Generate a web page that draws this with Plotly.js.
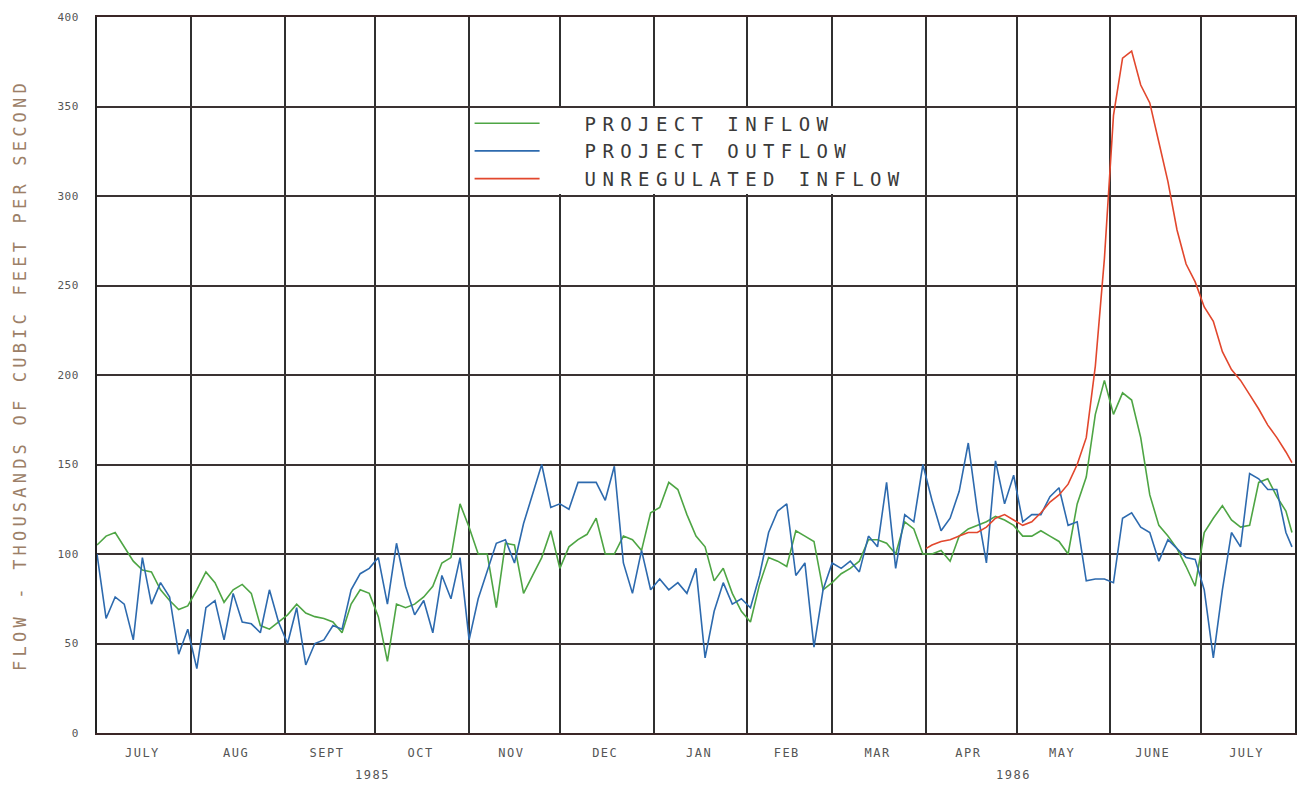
<!DOCTYPE html>
<html><head><meta charset="utf-8">
<script src="https://cdn.plot.ly/plotly-3.0.1.min.js"></script>
<style>
html,body{margin:0;padding:0;background:#fff;}
#chart{width:1305px;height:787px;}
.legendtext{letter-spacing:6.4px;}
.legendlines path{d:path('M5,0h65');}
.legend rect.bg{x:0px;y:3.5px;width:455px;height:86px;}
.xtick text{letter-spacing:1.5px;}
.ytick text{letter-spacing:0.5px;}
.ytitle{letter-spacing:4.2px;}
.annotation-text{letter-spacing:1.5px;}
</style>
</head><body><div id="chart"></div>
<script>
// Sample dates (every 3 days), July 1985 - July 1986
const dates = [
 '1985-07-01','1985-07-04','1985-07-07','1985-07-10','1985-07-13','1985-07-16','1985-07-19','1985-07-22','1985-07-25','1985-07-28','1985-07-31',
 '1985-08-03','1985-08-06','1985-08-09','1985-08-12','1985-08-15','1985-08-18','1985-08-21','1985-08-24','1985-08-27','1985-08-30',
 '1985-09-02','1985-09-05','1985-09-08','1985-09-11','1985-09-14','1985-09-17','1985-09-20','1985-09-23','1985-09-26','1985-09-29',
 '1985-10-02','1985-10-05','1985-10-08','1985-10-11','1985-10-14','1985-10-17','1985-10-20','1985-10-23','1985-10-26','1985-10-29',
 '1985-11-01','1985-11-04','1985-11-07','1985-11-10','1985-11-13','1985-11-16','1985-11-19','1985-11-22','1985-11-25','1985-11-28',
 '1985-12-01','1985-12-04','1985-12-07','1985-12-10','1985-12-13','1985-12-16','1985-12-19','1985-12-22','1985-12-25','1985-12-28','1985-12-31',
 '1986-01-03','1986-01-06','1986-01-09','1986-01-12','1986-01-15','1986-01-18','1986-01-21','1986-01-24','1986-01-27','1986-01-30',
 '1986-02-02','1986-02-05','1986-02-08','1986-02-11','1986-02-14','1986-02-17','1986-02-20','1986-02-23','1986-02-26',
 '1986-03-01','1986-03-04','1986-03-07','1986-03-10','1986-03-13','1986-03-16','1986-03-19','1986-03-22','1986-03-25','1986-03-28','1986-03-31',
 '1986-04-03','1986-04-06','1986-04-09','1986-04-12','1986-04-15','1986-04-18','1986-04-21','1986-04-24','1986-04-27','1986-04-30',
 '1986-05-03','1986-05-06','1986-05-09','1986-05-12','1986-05-15','1986-05-18','1986-05-21','1986-05-24','1986-05-27','1986-05-30',
 '1986-06-02','1986-06-05','1986-06-08','1986-06-11','1986-06-14','1986-06-17','1986-06-20','1986-06-23','1986-06-26','1986-06-29',
 '1986-07-02','1986-07-05','1986-07-08','1986-07-11','1986-07-14','1986-07-17','1986-07-20','1986-07-23','1986-07-26','1986-07-29','1986-07-31'
];

// Flow, thousands of cfs
const projectInflow = [
 105,110,112,104,96,91,90,80,74,69,71,
 80,90,84,73,80,83,78,60,58,62,
 66,72,67,65,64,62,56,72,80,78,
 65,40,72,70,72,76,82,95,98,128,
 115,100,100,70,106,105,78,88,98,113,
 92,104,108,111,120,100,100,110,108,102,123,
 126,140,136,122,110,104,85,92,78,68,
 62,83,98,96,93,113,110,107,80,
 84,89,92,96,108,108,106,100,118,114,100,
 100,102,96,110,114,116,118,121,119,116,
 110,110,113,110,107,100,128,143,178,197,
 178,190,186,165,133,116,110,103,93,82,
 112,120,127,119,115,116,140,142,132,124,112
];

const projectOutflow = [
 100,64,76,72,52,98,72,84,76,44,58,
 36,70,74,52,78,62,61,56,80,62,
 50,70,38,50,52,60,58,80,89,92,
 98,72,106,82,66,74,56,88,75,98,
 52,75,90,106,108,95,117,134,150,126,
 128,125,140,140,140,130,149,95,78,102,80,
 86,80,84,78,92,42,68,84,72,75,
 70,88,112,124,128,88,95,48,80,
 95,92,96,90,110,104,140,92,122,118,150,
 130,113,120,135,162,124,95,152,128,144,
 118,122,122,132,137,116,118,85,86,86,
 84,120,123,115,112,96,108,103,98,97,
 80,42,80,112,104,145,142,136,136,112,104
];

// Unregulated inflow starts 1 April 1986
const unregulatedDates = ['1986-04-01'].concat(dates.slice(92));
const unregulatedInflow = [
 103,105,107,108,110,112,112,115,120,122,119,
 116,118,123,129,133,139,150,165,205,265,
 345,377,381,362,352,330,308,281,262,252,
 238,230,213,203,197,189,181,172,165,157,151
];

const monthTickDates = ['1985-07-16','1985-08-16','1985-09-15','1985-10-16','1985-11-15','1985-12-16',
 '1986-01-16','1986-02-14','1986-03-16','1986-04-15','1986-05-16','1986-06-15','1986-07-16'];
const monthLabels = ['JULY','AUG','SEPT','OCT','NOV','DEC','JAN','FEB','MAR','APR','MAY','JUNE','JULY'];
const yearLabelDates = ['1985-09-30','1986-04-30'];
const yearLabels = ['1985','1986'];
const seriesNames = ['PROJECT INFLOW','PROJECT OUTFLOW','UNREGULATED INFLOW'];
const seriesColors = ['#4ea544','#2d6aae','#e2472d'];

const traces = [
 {x: dates, y: projectInflow, name: seriesNames[0], type: 'scatter', mode: 'lines',
  line: {color: seriesColors[0], width: 1.6}},
 {x: dates, y: projectOutflow, name: seriesNames[1], type: 'scatter', mode: 'lines',
  line: {color: seriesColors[1], width: 1.6}},
 {x: unregulatedDates, y: unregulatedInflow, name: seriesNames[2], type: 'scatter', mode: 'lines',
  line: {color: seriesColors[2], width: 1.6}}
];

const yearAnnotations = yearLabels.map((t, i) => ({x: yearLabelDates[i], y: -0.059, xref: 'x', yref: 'paper',
 text: t, showarrow: false, xanchor: 'center', yanchor: 'middle',
 font: {family: 'DejaVu Sans Mono', size: 12, color: '#555555'}}));

const layout = {
 width: 1305, height: 787,
 margin: {l: 97, r: 10, t: 17, b: 54},
 paper_bgcolor: '#ffffff', plot_bgcolor: '#ffffff',
 font: {family: 'DejaVu Sans Mono', color: '#555555'},
 showlegend: true,
 hovermode: false,
 legend: {x: 0.311, y: 0.878, xanchor: 'left', yanchor: 'top', bgcolor: '#ffffff',
  borderwidth: 0, itemwidth: 105, tracegroupgap: 0,
  font: {family: 'DejaVu Sans Mono', size: 19, color: '#3a3a3a'}},
 xaxis: {type: 'date', range: ['1985-07-01', '1986-08-01'],
  tickmode: 'array', tickvals: monthTickDates, ticktext: monthLabels,
  ticks: '', ticklabelstandoff: 8,
  tickfont: {family: 'DejaVu Sans Mono', size: 12, color: '#555555'},
  showgrid: false,
  minor: {dtick: 'M1', tick0: '1985-07-01', showgrid: true, gridcolor: '#303030', gridwidth: 2, ticks: ''},
  showline: true, mirror: true, linecolor: '#3a2626', linewidth: 2, zeroline: false},
 yaxis: {range: [0, 400], tick0: 0, dtick: 50, showgrid: true, gridcolor: '#3a3232', gridwidth: 2,
  ticks: '', ticklabelstandoff: 14,
  tickfont: {family: 'DejaVu Sans Mono', size: 11, color: '#555555'},
  showline: true, mirror: true, linecolor: '#222222', linewidth: 2, zeroline: false,
  title: {text: 'FLOW - THOUSANDS OF CUBIC FEET PER SECOND', standoff: 26,
   font: {family: 'DejaVu Sans Mono', size: 17, color: '#9c7f68'}}},
 annotations: yearAnnotations
};

Plotly.newPlot('chart', traces, layout, {displayModeBar: false, staticPlot: true});
</script>
</body></html>
